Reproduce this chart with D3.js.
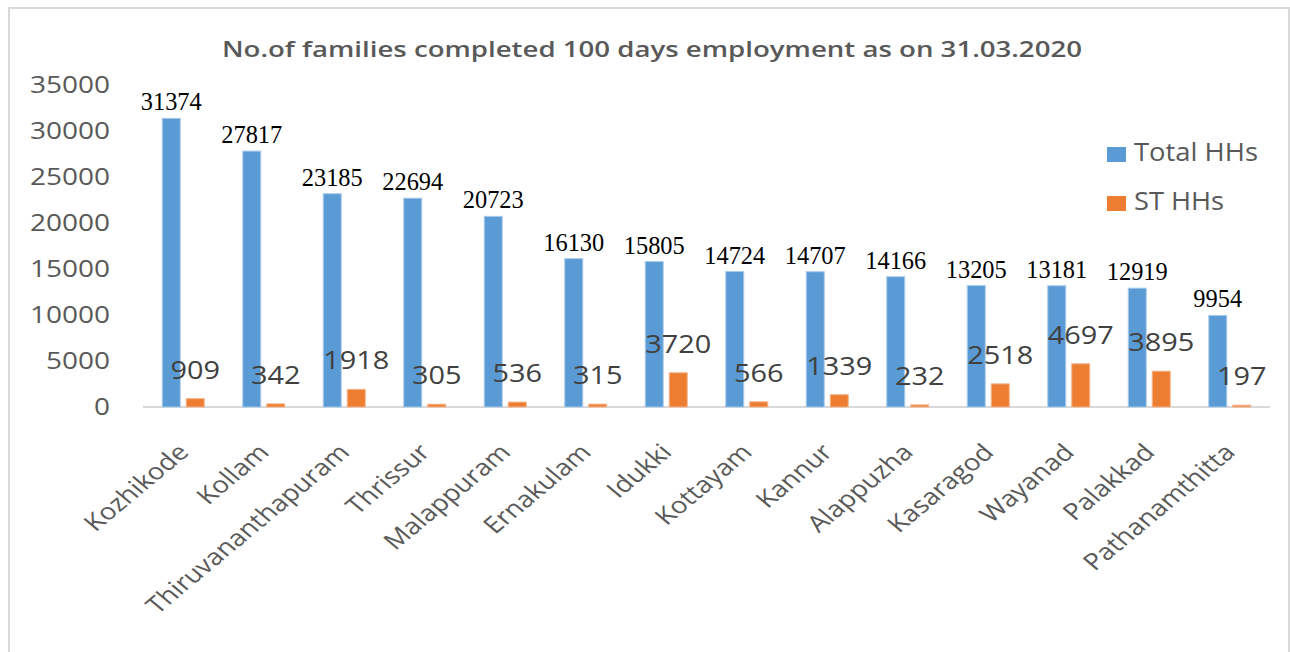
<!DOCTYPE html>
<html>
<head>
<meta charset="utf-8">
<script src="https://cdn.jsdelivr.net/npm/d3@7"></script>
<style>
  body { margin: 0; background: #fff; }
</style>
</head>
<body>
<div class="svgGraphique"></div>
<script>
// Data
const districts = ["Kozhikode", "Kollam", "Thiruvananthapuram", "Thrissur", "Malappuram", "Ernakulam", "Idukki",
  "Kottayam", "Kannur", "Alappuzha", "Kasaragod", "Wayanad", "Palakkad", "Pathanamthitta"];
const totalHHs = [31374, 27817, 23185, 22694, 20723, 16130, 15805, 14724, 14707, 14166, 13205, 13181, 12919, 9954];
const stHHs = [909, 342, 1918, 305, 536, 315, 3720, 566, 1339, 232, 2518, 4697, 3895, 197];
const seriesNames = ["Total HHs", "ST HHs"];
const yTicks = [0, 5000, 10000, 15000, 20000, 25000, 30000, 35000];
const title = "No.of families completed 100 days employment as on 31.03.2020";

const width = 1290;
const height = 652;
const colors = { "Total HHs": "#5b9bd5", "ST HHs": "#ed7d31" };

const data = districts.map((d, i) => ({ district: d, total: totalHHs[i], st: stHHs[i] }));

const svg = d3.create('svg')
    .attr('width', width)
    .attr('height', height)
    .attr('viewBox', `0 0 ${width} ${height}`)
    .style('font-family', '"Open Sans", sans-serif');

// cadre gris autour du graphique
svg.append('rect')
    .attr('x', 9).attr('y', 8)
    .attr('width', 1280).attr('height', 680)
    .attr('fill', 'none')
    .attr('stroke', '#d9d9d9')
    .attr('stroke-width', 2);

// scales
const x = d3.scaleBand()
    .domain(districts)
    .range([143, 1270]);

const xInner = d3.scaleBand()
    .domain(seriesNames)
    .range([-21, 21])
    .paddingInner(0.25);

const y = d3.scaleLinear().domain([0, 35000]).range([407, 85]);

// titre
svg.append('text')
    .attr('x', 222).attr('y', 57)
    .attr('textLength', 860)
    .attr('lengthAdjust', 'spacingAndGlyphs')
    .attr('font-size', 22)
    .attr('font-weight', 600)
    .attr('fill', '#595959')
    .text(title);

// axe y (labels only)
const yAxis = d3.axisLeft(y).tickValues(yTicks).tickSize(0).tickPadding(0).tickFormat(d3.format('d'));
svg.append('g')
    .attr('transform', 'translate(110,0)')
    .call(yAxis)
    .call(g => g.select('.domain').remove())
    .call(g => g.selectAll('text')
        .attr('font-family', '"Open Sans", sans-serif')
        .attr('font-size', 24)
        .attr('fill', '#595959')
        .attr('textLength', d => String(d).length * 16)
        .attr('lengthAdjust', 'spacingAndGlyphs'));

// ligne de base
svg.append('line')
    .attr('x1', x.range()[0]).attr('x2', x.range()[1])
    .attr('y1', y(0)).attr('y2', y(0))
    .attr('stroke', '#d9d9d9')
    .attr('stroke-width', 2);

const cx = d => x(d.district) + x.bandwidth() / 2;

// barres Total HHs
svg.append('g').selectAll('rect')
    .data(data)
    .join('rect')
    .attr('x', d => cx(d) + xInner("Total HHs"))
    .attr('y', d => y(d.total))
    .attr('width', xInner.bandwidth())
    .attr('height', d => y(0) - y(d.total))
    .attr('fill', colors["Total HHs"])
    .attr('stroke', '#a9cbeb')
    .attr('stroke-width', 1);

// barres ST HHs
svg.append('g').selectAll('rect')
    .data(data)
    .join('rect')
    .attr('x', d => cx(d) + xInner("ST HHs"))
    .attr('y', d => y(d.st))
    .attr('width', xInner.bandwidth())
    .attr('height', d => y(0) - y(d.st))
    .attr('fill', colors["ST HHs"])
    .attr('stroke', '#f5b48c')
    .attr('stroke-width', 1);

// étiquettes Total HHs
svg.append('g').selectAll('text')
    .data(data)
    .join('text')
    .attr('x', d => cx(d) + xInner("Total HHs") + xInner.bandwidth() / 2)
    .attr('y', d => y(d.total) - 8)
    .attr('text-anchor', 'middle')
    .attr('font-family', '"Liberation Serif", serif')
    .attr('font-size', 25)
    .attr('fill', '#000')
    .attr('textLength', d => String(d.total).length * 12.2)
    .attr('lengthAdjust', 'spacingAndGlyphs')
    .text(d => d.total);

// étiquettes ST HHs
svg.append('g').selectAll('text')
    .data(data)
    .join('text')
    .attr('x', d => cx(d) + xInner("ST HHs") + xInner.bandwidth() / 2)
    .attr('y', d => y(d.st) - 20)
    .attr('text-anchor', 'middle')
    .attr('font-size', 25)
    .attr('fill', '#404040')
    .attr('textLength', d => String(d.st).length * 16.5)
    .attr('lengthAdjust', 'spacingAndGlyphs')
    .text(d => d.st);

// labels x tournés à -45° (image étirée horizontalement)
svg.append('g').selectAll('text')
    .data(data)
    .join('text')
    .attr('transform', d => `translate(${cx(d)},448) scale(1.2,1) rotate(-45)`)
    .attr('dy', '0.35em')
    .attr('text-anchor', 'end')
    .attr('font-size', 23)
    .attr('fill', '#595959')
    .text(d => d.district);

// légende
const legend = svg.append('g').selectAll('g')
    .data(seriesNames)
    .join('g')
    .attr('transform', (d, i) => `translate(1107,${147 + i * 49})`);

legend.append('rect')
    .attr('width', 19).attr('height', 15)
    .attr('fill', d => colors[d]);

legend.append('text')
    .attr('x', 27).attr('y', 14)
    .attr('font-size', 25)
    .attr('fill', '#595959')
    .attr('textLength', (d, i) => i === 0 ? 124 : 90)
    .attr('lengthAdjust', 'spacingAndGlyphs')
    .text(d => d);

document.querySelector('.svgGraphique').appendChild(svg.node());
</script>
</body>
</html>
